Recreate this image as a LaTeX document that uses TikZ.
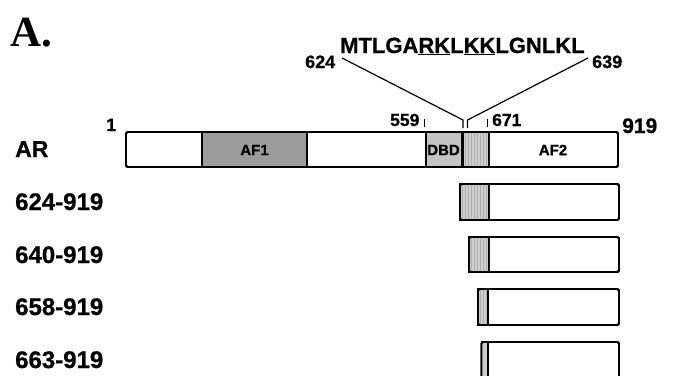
\documentclass[tikz,border=0pt]{standalone}
\usepackage{fontspec}
\setmainfont{Liberation Sans}[BoldFeatures={FakeBold=0.8}]
\newfontfamily\serifA{Liberation Serif}
\usetikzlibrary{patterns}
\definecolor{afonegray}{HTML}{9C9C9C}
\definecolor{dbdgray}{HTML}{C4C4C4}
\definecolor{stripegray}{HTML}{CDCDCD}
\definecolor{stripeline}{HTML}{B0B0B0}
\begin{document}
\begin{tikzpicture}[x=1pt,y=-1pt,
  barbox/.style={draw=black, line width=1.8pt, rounded corners=1.5pt},
  inbox/.style={draw=black, line width=1.8pt},
  afone/.style={inbox, fill=afonegray},
  dbd/.style={inbox, fill=dbdgray},
  stripebox/.style={inbox, fill=stripegray, postaction={pattern=vertical lines, pattern color=stripeline}},
  biglbl/.style={font=\fontsize{24}{26}\selectfont\bfseries, inner sep=0pt, anchor=base west},
  numlbl/.style={font=\fontsize{18}{20}\selectfont\bfseries, inner sep=0pt, anchor=base west},
  inlbl/.style={font=\fontsize{15}{17}\selectfont\bfseries, inner sep=0pt},
  conn/.style={draw=black, line width=1.2pt},
  tick/.style={draw=black, line width=0.9pt}]
\useasboundingbox (0,0) rectangle (676,375);
\begin{scope}
\clip (0,0) rectangle (676,375);

% title
\node[font=\serifA\fontsize{43}{44}\selectfont\bfseries, inner sep=0pt, anchor=base west] (title) at (10,46) {A.};

% sequence and its end labels
\node[font=\fontsize{22}{24}\selectfont\bfseries, inner sep=0pt, anchor=base west] (seq) at (340,53)
  {MTLGA\underline{RK}L\underline{KK}LGNLKL};
\node[numlbl] (n624) at (305,68) {624};
\node[numlbl] (n639) at (592,68) {639};

% full-length AR bar
\draw[barbox, fill=white] (126,132) rectangle (618,167);
\draw[afone] (202,132) rectangle (307,167);
\draw[dbd] (426,132) rectangle (461.5,167);
\draw[stripebox] (463,132) rectangle (489,167);
\draw[barbox] (126,132) rectangle (618,167);
\node[inlbl] (laf1) at (254.5,150) {AF1};
\node[inlbl] (ldbd) at (443.5,150) {DBD};
\node[inlbl] (laf2) at (553,150) {AF2};

\node[biglbl, font=\fontsize{23}{25}\selectfont\bfseries] (lar) at (15,157) {AR};
\node[numlbl] (n1) at (106,131) {1};
\node[numlbl, font=\fontsize{17.5}{20}\selectfont\bfseries] (n559) at (390,126) {559};
\node[numlbl, font=\fontsize{17.5}{20}\selectfont\bfseries] (n671) at (492,126) {671};
\node[numlbl, font=\fontsize{21}{23}\selectfont\bfseries] (n919) at (622,133) {919};

% ticks
\draw[tick] (424,119) -- (424,127);
\draw[tick] (487.5,119) -- (487.5,127);

% connectors from the sequence ends to the bar
\coordinate (s624) at (342,58);
\coordinate (s639) at (588,58);
\coordinate (k624) at (463,120);
\coordinate (k639) at (467.5,120);
\coordinate (b624) at (463,128);
\coordinate (b639) at (467.5,128);
\draw[conn] (s624) -- (k624) -- (b624);
\draw[conn] (s639) -- (k639) -- (b639);

% truncation constructs
\node[biglbl] (l624) at (15,210) {624-919};
\draw[barbox, fill=white] (460,184) rectangle (619,220);
\draw[stripebox] (460,184) rectangle (489,220);
\draw[barbox] (460,184) rectangle (619,220);

\node[biglbl] (l640) at (15,263) {640-919};
\draw[barbox, fill=white] (469,237) rectangle (619,272);
\draw[stripebox] (469,237) rectangle (489,272);
\draw[barbox] (469,237) rectangle (619,272);

\node[biglbl] (l658) at (15,315) {658-919};
\draw[barbox, fill=white] (478,289) rectangle (619,325);
\draw[stripebox] (478,289) rectangle (488,325);
\draw[barbox] (478,289) rectangle (619,325);

\node[biglbl] (l663) at (15,368) {663-919};
\draw[barbox, fill=white] (481.5,342) rectangle (619,380);
\draw[inbox, fill=stripegray] (481.5,342) rectangle (488,380);
\draw[barbox] (481.5,342) rectangle (619,380);
\end{scope}
\end{tikzpicture}
\end{document}
